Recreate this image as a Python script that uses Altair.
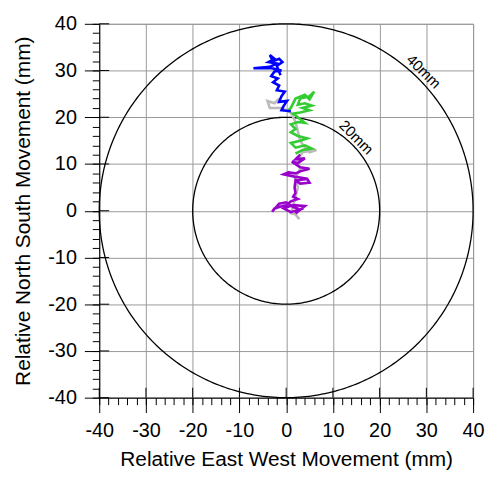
import altair as alt
import pandas as pd
import numpy as np

# ---- data (mm) ----
grey_x = [2.8, 2.0, 1.0, 1.5, 2.0, 2.5, 2.0, 3.0, 2.5, 3.5, 6.5, 5.0, 4.0, 3.0, 2.5, 2.0, 1.0, -1.0, -3.5, -4.0, -2.5, -1.5]
grey_y = [-1.8, -0.8, -0.5, 1.0, 3.0, 5.0, 7.0, 9.0, 11.0, 12.5, 13.0, 12.5, 13.5, 15.0, 17.0, 19.0, 21.0, 22.0, 22.0, 23.5, 23.0, 24.0]

purple_x = [3.0, 2.0, 4.0, 2.5, 1.2, 3.0, 5.0, 3.2, 2.0, 0.5, -0.5, 1.8, 3.5, 2.2, 4.5, 5.0, 3.0, 2.0, 1.8, 2.0, 1.5, 2.5, 1.0, 0.0, -1.5, -2.5, -3.0, -1.5, 0.0, 1.5, 3.0, 1.0, -0.5, 1.5, 4.0, 2.0]
purple_y = [12.0, 11.0, 11.2, 10.2, 10.5, 9.3, 9.0, 8.5, 8.0, 8.2, 7.8, 7.3, 7.0, 6.5, 6.8, 6.0, 5.8, 6.5, 5.0, 3.8, 3.0, 2.5, 2.0, 1.2, 0.8, 0.5, -0.2, 1.5, 1.8, 0.8, 0.3, -0.3, 0.5, 1.2, 1.0, -0.6]

green_x = [2.0, 3.5, 5.5, 4.0, 2.0, 1.0, 3.0, 4.5, 2.5, 1.0, 2.0, 1.0, 2.5, 4.0, 2.5, 1.5, 3.0, 5.0, 3.5, 5.5, 4.0, 2.5, 3.0, 5.0, 6.0, 5.0, 4.0, 2.0, 1.0, 0.5]
green_y = [12.2, 13.0, 13.3, 14.0, 13.5, 14.5, 15.0, 15.5, 16.0, 16.8, 17.5, 18.5, 19.0, 18.8, 20.0, 20.8, 21.0, 21.5, 22.0, 22.5, 23.0, 22.7, 24.0, 24.5, 25.5, 23.8, 24.8, 24.0, 22.0, 21.5]

blue_x = [1.0, -1.0, -0.5, 0.2, -1.5, -1.0, -0.3, -2.0, -1.5, -2.8, -1.8, -3.2, -2.5, -1.0, -3.0, -7.0, -3.5, -2.0, -3.8, -2.5, -3.5, -2.8, -1.5, -0.8, -2.0, -1.2]
blue_y = [21.3, 21.5, 22.5, 23.5, 23.3, 24.5, 25.5, 25.8, 26.8, 27.5, 28.3, 28.8, 29.8, 30.0, 30.5, 30.5, 30.8, 31.5, 31.8, 32.5, 33.3, 32.0, 32.5, 31.8, 31.0, 29.0]

circle_radii = [20, 40]
circle_labels = ["20mm", "40mm"]
label_x = [15.0, 29.4]
label_y = [15.7, 29.8]

major_ticks = [-40, -30, -20, -10, 0, 10, 20, 30, 40]
minor_ticks = list(range(-40, 41, 2))

W = H = 377
FONT = "Liberation Sans"
LBL = 20
TTL = 21

xs = alt.Scale(domain=[-40, 40], nice=False, zero=False)
ys = alt.Scale(domain=[-40, 40], nice=False, zero=False)

common = dict(values=major_ticks, grid=True, gridColor="#999999", gridWidth=1, tickSize=15,
              tickColor="black", domainColor="black", labelFontSize=LBL, titleFontSize=TTL,
              labelFont=FONT, titleFont=FONT, titleFontWeight="normal", labelColor="black",
              titleColor="black", labelExpr="'' + datum.value", labelFlush=False,
              labelOverlap=False)
xaxis = alt.Axis(title="Relative East West Movement (mm)", labelPadding=8, titlePadding=8, **common)
yaxis = alt.Axis(title="Relative North South Movement (mm)", labelPadding=8, titlePadding=14, **common)


def path_df(xv, yv):
    return pd.DataFrame({"x": xv, "y": yv, "i": range(len(xv))})


def path_layer(xv, yv, color):
    return alt.Chart(path_df(xv, yv)).mark_line(color=color, strokeWidth=2.6, strokeJoin="miter").encode(
        x=alt.X("x:Q", scale=xs, axis=None),
        y=alt.Y("y:Q", scale=ys, axis=None),
        order="i:Q",
    )


# circles
theta = np.linspace(0, 2 * np.pi, 361)
circ_rows = []
for r in circle_radii:
    for k, t in enumerate(theta):
        circ_rows.append({"r": r, "x": r * np.cos(t), "y": r * np.sin(t), "k": k})
circ_df = pd.DataFrame(circ_rows)

circles = alt.Chart(circ_df).mark_line(color="black", strokeWidth=1.3).encode(
    x=alt.X("x:Q", scale=xs, axis=xaxis),
    y=alt.Y("y:Q", scale=ys, axis=yaxis),
    detail="r:N",
    order="k:Q",
)

minor_x = alt.Chart(pd.DataFrame({"v": minor_ticks})).mark_point(opacity=0).encode(
    x=alt.X("v:Q", scale=xs, axis=alt.Axis(values=minor_ticks, orient="bottom", labels=False, title=None,
                                           grid=False, domain=False, tickSize=7, tickColor="black")),
)
minor_y = alt.Chart(pd.DataFrame({"v": minor_ticks})).mark_point(opacity=0).encode(
    y=alt.Y("v:Q", scale=ys, axis=alt.Axis(values=minor_ticks, orient="left", labels=False, title=None,
                                           grid=False, domain=False, tickSize=7, tickColor="black")),
)

tick_df = pd.DataFrame({"v": major_ticks})
in_x = alt.Chart(tick_df).mark_rule(color="black", strokeWidth=1).encode(
    x=alt.X("v:Q", scale=xs, axis=None), y=alt.value(H - 10), y2=alt.value(H))
in_y = alt.Chart(tick_df).mark_rule(color="black", strokeWidth=1).encode(
    y=alt.Y("v:Q", scale=ys, axis=None), x=alt.value(0), x2=alt.value(10))

labels = alt.Chart(pd.DataFrame({"x": label_x, "y": label_y, "t": circle_labels})).mark_text(
    angle=45, fontSize=15, font=FONT, color="black").encode(
    x=alt.X("x:Q", scale=xs, axis=None), y=alt.Y("y:Q", scale=ys, axis=None), text="t:N")

chart = alt.layer(
    circles,
    in_x, in_y,
    path_layer(grey_x, grey_y, "#bbbbbb"),
    path_layer(purple_x, purple_y, "#9900cc"),
    path_layer(green_x, green_y, "#33cc33"),
    path_layer(blue_x, blue_y, "#0000ff"),
    labels,
    minor_x, minor_y,
).resolve_axis(x="independent", y="independent").properties(
    width=W, height=H, padding={"left": 5, "top": 4, "right": 0, "bottom": 0}
).configure_view(stroke="#999999")

chart.save("out.html", embed_options={"renderer": "svg", "actions": False})
